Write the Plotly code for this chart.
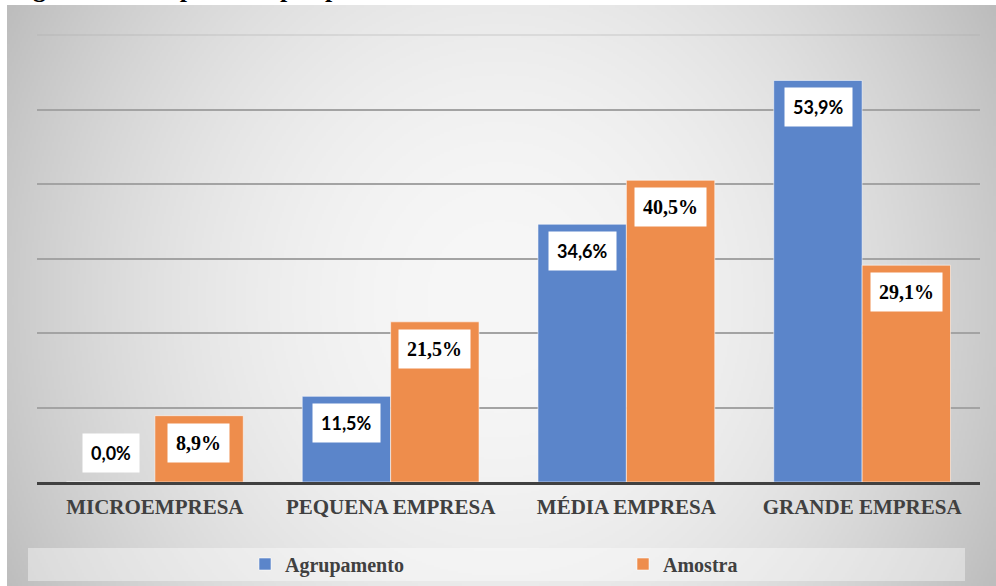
import base64
import struct
import zlib

import numpy as np
import plotly.graph_objects as go

# Data
categorias = ["MICROEMPRESA", "PEQUENA EMPRESA", "MÉDIA EMPRESA", "GRANDE EMPRESA"]
agrupamento = [0.0, 11.5, 34.6, 53.9]
amostra = [8.9, 21.5, 40.5, 29.1]
eixo_y_max = 60
eixo_y_passo = 10

W, H = 996, 586
AZUL = "#5b85ca"
LARANJA = "#ee8d4c"
CINZA_TEXTO = "#404040"
SERIFA = "Liberation Serif, Times New Roman, serif"
SANS = "Lato, sans-serif"


def rotulo(v):
    return f"{v:.1f}%".replace(".", ",")


def png_uri(arr):
    h, w = arr.shape[:2]
    raw = b"".join(b"\x00" + arr[r].tobytes() for r in range(h))

    def chunk(tag, data):
        c = tag + data
        return struct.pack(">I", len(data)) + c + struct.pack(">I", zlib.crc32(c) & 0xFFFFFFFF)

    png = (b"\x89PNG\r\n\x1a\n"
           + chunk(b"IHDR", struct.pack(">IIBBBBB", w, h, 8, 2, 0, 0, 0))
           + chunk(b"IDAT", zlib.compress(raw, 9))
           + chunk(b"IEND", b""))
    return "data:image/png;base64," + base64.b64encode(png).decode()


# Soft grey radial background of the chart area
bx0, by0 = 7, 5
bw, bh = W - bx0, H - by0
gw, gh = bw // 2, bh // 2
xs = np.linspace(bx0, W, gw)
ys = np.linspace(by0, H, gh)
X, Y = np.meshgrid(xs, ys)
val = 247 - 46 * ((X - 500) / 500) ** 2 - 14 * ((Y - 300) / 300) ** 2
val = np.clip(val, 185, 250).astype(np.uint8)
fundo = png_uri(np.repeat(val[:, :, None], 3, axis=2))


def px_x(p):
    return p / W


def px_y(p):
    return 1 - p / H


fig = go.Figure()
fig.add_trace(go.Bar(
    name="<b>Agrupamento</b>", x=categorias, y=agrupamento, legend="legend",
    marker=dict(color=AZUL, line=dict(color="rgba(255,255,255,0.55)", width=1)),
))
fig.add_trace(go.Bar(
    name="<b>Amostra</b>", x=categorias, y=amostra, legend="legend2",
    marker=dict(color=LARANJA, line=dict(color="rgba(255,255,255,0.55)", width=1)),
))

anotacoes = []
series = [
    (agrupamento, -44, dict(family=SANS, size=18, color="black")),
    (amostra, 44, dict(family=SERIFA, size=20, color="black")),
]
for valores, desloc, fonte in series:
    for cat, v in zip(categorias, valores):
        if v == 0:
            anc, ys_ = "bottom", 9
        else:
            anc, ys_ = "top", -7
        anotacoes.append(dict(
            x=cat, y=v, xref="x", yref="y", text=f"<b>{rotulo(v)}</b>", showarrow=False,
            xshift=desloc, yanchor=anc, yshift=ys_, bgcolor="white",
            borderpad=8, font=fonte,
        ))

anotacoes.append(dict(
    text="<b>Figura 3 - Comparativo por porte.</b>", xref="paper", yref="paper",
    x=px_x(8), y=1, xanchor="left", yanchor="bottom", yshift=-5,
    showarrow=False, font=dict(family=SERIFA, size=26, color="black"),
))

fonte_legenda = dict(family=SERIFA, size=20, color=CINZA_TEXTO)
fig.update_layout(
    width=W, height=H,
    margin=dict(l=0, r=0, t=0, b=0, autoexpand=False),
    paper_bgcolor="white",
    plot_bgcolor="rgba(0,0,0,0)",
    barmode="group", bargap=0.25, bargroupgap=0,
    showlegend=True,
    images=[dict(
        source=fundo, xref="paper", yref="paper",
        x=px_x(bx0), y=px_y(by0), sizex=bw / W, sizey=bh / H,
        xanchor="left", yanchor="top", sizing="stretch", layer="below",
    )],
    shapes=[
        dict(type="rect", xref="paper", yref="paper",
             x0=px_x(28), x1=px_x(965), y0=px_y(581), y1=px_y(548),
             fillcolor="rgba(255,255,255,0.4)", line=dict(width=0), layer="below"),
        dict(type="line", xref="x domain", yref="y domain", x0=0, x1=1, y0=1, y1=1,
             line=dict(color="rgba(170,170,170,0.35)", width=1.5), layer="below"),
    ],
    xaxis=dict(
        domain=[px_x(37), px_x(980)],
        showline=True, linecolor="#404040", linewidth=3,
        showgrid=False, ticks="outside", ticklen=4, tickcolor="rgba(0,0,0,0)",
        tickvals=categorias, ticktext=[f"<b>{c}</b>" for c in categorias],
        tickfont=dict(family=SERIFA, size=21, color=CINZA_TEXTO),
    ),
    yaxis=dict(
        domain=[px_y(482), px_y(35)],
        range=[0, eixo_y_max],
        tickvals=list(range(eixo_y_passo, eixo_y_max, eixo_y_passo)),
        showticklabels=False, showgrid=True, gridcolor="#a3a3a3", gridwidth=1.5,
        zeroline=False, showline=False,
    ),
    legend=dict(
        orientation="h", x=px_x(245), xanchor="left", y=px_y(564), yanchor="middle",
        bgcolor="rgba(0,0,0,0)", font=fonte_legenda,
    ),
    legend2=dict(
        orientation="h", x=px_x(623), xanchor="left", y=px_y(564), yanchor="middle",
        bgcolor="rgba(0,0,0,0)", font=fonte_legenda,
    ),
    annotations=anotacoes,
)

fig.write_html("out.html")
